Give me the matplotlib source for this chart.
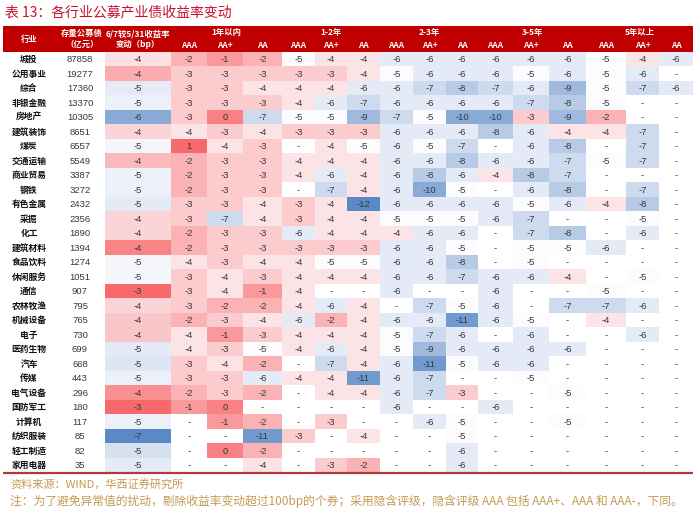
import numpy as np
import matplotlib.pyplot as plt
from matplotlib.colors import LinearSegmentedColormap, TwoSlopeNorm
from matplotlib.patches import Rectangle

plt.rcParams['font.family'] = ['Noto Sans CJK SC', 'DejaVu Sans']

# ==========================================================
# DATA
# ==========================================================

N = np.nan

industries = ["城投", "公用事业", "综合", "非银金融", "房地产", "建筑装饰", "煤炭",
              "交通运输", "商业贸易", "钢铁", "有色金属", "采掘", "化工", "建筑材料",
              "食品饮料", "休闲服务", "通信", "农林牧渔", "机械设备", "电子",
              "医药生物", "汽车", "传媒", "电气设备", "国防军工", "计算机",
              "纺织服装", "轻工制造", "家用电器"]

outstanding = [87858, 19277, 17360, 13370, 10305, 8651, 6557, 5549, 3387, 3272,
               2432, 2356, 1890, 1394, 1274, 1051, 907, 795, 765, 730,
               699, 668, 443, 296, 180, 117, 85, 82, 35]

# 6/7 vs 5/31 yield change (bp), unrounded estimates
change_bp = [-4.3, -3.9, -4.8, -4.7, -6.0, -4.2, -4.6, -4.0, -4.7, -4.7,
             -4.8, -4.2, -4.2, -3.6, -4.6, -4.6, -3.4, -4.2, -4.1, -4.1,
             -4.8, -4.9, -4.7, -3.7, -3.4, -4.7, -6.6, -5.0, -4.8]

tenors = ["1年以内", "1-2年", "2-3年", "3-5年", "5年以上"]
ratings = ["AAA", "AA+", "AA"]

yld_1y = [[-2, -1, -2], [-3, -3, -3], [-3, -3, -4], [-3, -3, -3], [-3, 0, -7],
          [-4, -3, -4], [1, -4, -3], [-2, -3, -3], [-2, -3, -3], [-2, -3, -3],
          [-3, -3, -4], [-3, -7, -4], [-2, -3, -3], [-2, -3, -3], [-4, -3, -4],
          [-3, -4, -3], [-3, -4, -1], [-3, -2, -2], [-2, -3, -4], [-4, -1, -3],
          [-4, -3, -5], [-3, -4, -2], [-3, -3, -6], [-2, -3, -2], [-1, 0, N],
          [N, -1, -2], [N, N, -11], [N, 0, -2], [N, N, -4]]

yld_1_2y = [[-5, -4, -4], [-3, -3, -4], [-4, -4, -6], [-4, -6, -7], [-5, -5, -9],
            [-3, -3, -3], [N, -4, -5], [-4, -4, -4], [-4, -6, -4], [N, -7, -4],
            [-3, -4, -12], [-3, -4, -4], [-6, -4, -4], [-3, -3, -3], [-4, -5, -5],
            [-4, -4, -4], [-4, N, N], [-4, -6, -4], [-6, -2, -4], [-4, -4, -4],
            [-4, -6, -4], [N, -7, -4], [-4, -4, -11], [N, -4, -4], [N, N, N],
            [N, -3, N], [-3, N, -4], [N, N, N], [N, -3, -2]]

yld_2_3y = [[-6, -6, -6], [-5, -6, -6], [-6, -7, -8], [-6, -6, -6], [-7, -5, -10],
            [-6, -6, -6], [-6, -5, -7], [-6, -6, -8], [-6, -8, -6], [-6, -10, -5],
            [-6, -6, -6], [-5, -5, -5], [-4, -6, -6], [-6, -6, -5], [-6, -6, -8],
            [-6, -6, -7], [-6, N, N], [N, -7, -5], [-6, -6, -11], [-5, -7, -6],
            [-5, -9, -6], [-6, -11, -5], [-6, -7, N], [-6, -7, -3], [-6, N, N],
            [N, -6, -5], [N, N, -5], [N, N, -6], [N, N, -6]]

yld_3_5y = [[-6, -6, -6], [-6, -5, -6], [-7, -6, -9], [-6, -7, -8], [-10, -3, -9],
            [-8, -6, -4], [N, -6, -8], [-6, -6, -7], [-4, -8, -7], [N, -6, -8],
            [-6, -5, -6], [-6, -7, N], [N, -7, -8], [N, -5, -5], [N, -5, N],
            [-6, -6, -4], [-6, N, N], [-6, N, -7], [-6, -5, N], [N, -6, N],
            [-6, -6, -6], [-6, -6, N], [N, -5, N], [N, N, -5], [-6, N, N],
            [N, N, -5], [N, N, N], [N, N, N], [N, N, N]]

yld_5y = [[-5, -4, -6], [-5, -6, N], [-5, -7, -6], [-5, N, N], [-2, N, N],
          [-4, -7, N], [N, -7, N], [-5, -7, N], [N, N, N], [N, -7, N],
          [-4, -8, N], [N, -5, N], [N, -6, N], [-6, N, N], [N, N, N],
          [N, -5, N], [-5, N, N], [-7, -6, N], [-4, N, N], [N, -6, N],
          [N, N, N], [N, N, N], [N, N, N], [N, N, N], [N, N, N],
          [N, N, N], [N, N, N], [N, N, N], [N, N, N]]

# ==========================================================
# LAYOUT
# ==========================================================

HEADER_RED = "#C00000"
TEXT_DARK = "#383838"
FOOT_COLOR = "#C49A52"
NUM_FONT = ["Liberation Sans", "DejaVu Sans"]

X_LEFT, X_RIGHT = 3, 693
COL_NAME = (3, 55)
COL_AMT = (55, 105)
COL_CHG = (105, 171)
GRID_EDGES = [171, 207, 243, 282, 315, 347, 380, 413, 446, 478, 513, 549, 586, 626, 659, 693]
Y_HEAD_TOP, Y_BODY_TOP, Y_BODY_BOT = 27, 52.5, 473

cmap = LinearSegmentedColormap.from_list("excel3", ["#5A8AC6", "#FCFCFF", "#F8696B"])
cmap.set_bad("white")


def main():
    grid = np.hstack([np.array(a, dtype=float) for a in
                      [yld_1y, yld_1_2y, yld_2_3y, yld_3_5y, yld_5y]])
    chg = np.array(change_bp, dtype=float).reshape(-1, 1)
    n_rows = len(industries)
    y_edges = np.linspace(Y_BODY_TOP, Y_BODY_BOT, n_rows + 1)
    y_mid = (y_edges[:-1] + y_edges[1:]) / 2
    x_edges = np.array(GRID_EDGES, dtype=float)
    x_mid = (x_edges[:-1] + x_edges[1:]) / 2

    fig = plt.figure(figsize=(7, 5.1), dpi=100)
    ax = fig.add_axes([0, 0, 1, 1])
    ax.set_xlim(0, 700)
    ax.set_ylim(510, 0)
    ax.axis("off")

    # Title
    ax.text(5, 12, "表 13：各行业公募产业债收益率变动", fontsize=10,
            color="#C8102E", va="center", ha="left")

    # Header band
    ax.add_patch(Rectangle((X_LEFT, Y_HEAD_TOP), X_RIGHT - X_LEFT, Y_BODY_TOP - Y_HEAD_TOP,
                           facecolor=HEADER_RED, edgecolor="none"))
    hkw = dict(color="white", fontsize=6, fontweight="bold", ha="center", va="center")
    ax.text(sum(COL_NAME) / 2, 39, "行业", **hkw)
    ax.text(sum(COL_AMT) / 2 + 2, 33.5, "存量公募债", **hkw)
    ax.text(sum(COL_AMT) / 2 + 2, 44.5, "（亿元）", **hkw)
    ax.text(sum(COL_CHG) / 2, 33.5, "6/7较5/31收益率", **hkw)
    ax.text(sum(COL_CHG) / 2, 44.5, "变动（bp）", **hkw)
    for g, name in enumerate(tenors):
        xc = (x_edges[3 * g] + x_edges[3 * g + 3]) / 2
        ax.text(xc, 33, name, **hkw)
        for r, rating in enumerate(ratings):
            ax.text(x_mid[3 * g + r], 46, rating, **hkw)

    # Heatmap cells
    ax.pcolormesh(x_edges, y_edges, np.ma.masked_invalid(grid), cmap=cmap,
                  norm=TwoSlopeNorm(vmin=-12, vcenter=-5, vmax=1))
    ax.pcolormesh(np.array(COL_CHG, dtype=float), y_edges, chg, cmap=cmap,
                  norm=TwoSlopeNorm(vmin=-6.6, vcenter=-4.5, vmax=-3.4))

    # Cell text
    for i in range(n_rows):
        yc = y_mid[i]
        ax.text(sum(COL_NAME) / 2, yc, industries[i], fontsize=6.3, fontweight="bold",
                color="#111111", ha="center", va="center")
        ax.text(sum(COL_AMT) / 2, yc, f"{outstanding[i]}", fontsize=6.8,
                family=NUM_FONT, color=TEXT_DARK, ha="center", va="center")
        ax.text(sum(COL_CHG) / 2, yc, f"{change_bp[i]:.0f}", fontsize=6.8,
                family=NUM_FONT, color=TEXT_DARK, ha="center", va="center")
        for j in range(grid.shape[1]):
            v = grid[i, j]
            s = "-" if np.isnan(v) else f"{v:.0f}"
            ax.text(x_mid[j], yc, s, fontsize=6.8, family=NUM_FONT,
                    color=TEXT_DARK, ha="center", va="center")

    # Bottom rule
    ax.plot([X_LEFT, X_RIGHT], [Y_BODY_BOT + 0.5, Y_BODY_BOT + 0.5],
            color="#B03A3A", linewidth=1.6, solid_capstyle="butt")

    # Footer
    ax.text(10, 484, "资料来源：WIND，华西证券研究所", fontsize=8, color=FOOT_COLOR,
            ha="left", va="center")
    ax.text(10, 501, "注：为了避免异常值的扰动，剔除收益率变动超过100bp的个券；采用隐含评级，"
            "隐含评级 AAA 包括 AAA+、AAA 和 AAA-，下同。", fontsize=8.5, color=FOOT_COLOR,
            ha="left", va="center")

    fig.savefig("out.png", dpi=100)


if __name__ == "__main__":
    main()
